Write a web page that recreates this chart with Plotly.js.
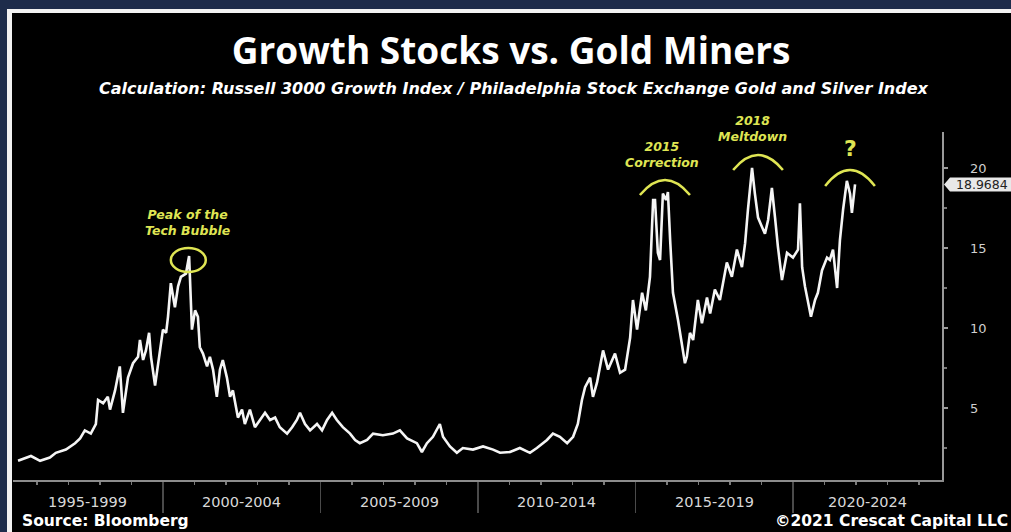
<!DOCTYPE html>
<html>
<head>
<meta charset="utf-8">
<script src="https://cdn.plot.ly/plotly-3.0.1.min.js"></script>
<style>
  html, body { margin:0; padding:0; width:1011px; height:532px; overflow:hidden; background:#1e2c4b; }
  #frame { position:absolute; left:7px; top:9px; width:1004px; height:523px; background:#f2f2f2; }
  #inner { position:absolute; left:12px; top:13px; width:999px; height:519px; background:#000; }
  #chart { position:absolute; left:0; top:0; width:1011px; height:532px; }
</style>
</head>
<body>
<div id="frame"></div>
<div id="inner"></div>
<div id="chart"></div>
<script>
// Decimal year of each observation
const years = [1995.40,1995.81,1996.10,1996.41,1996.60,1996.92,1997.21,1997.37,1997.52,1997.71,
1997.87,1997.94,1998.10,1998.25,1998.32,1998.48,1998.63,1998.73,1998.89,1999.05,
1999.21,1999.27,1999.37,1999.46,1999.56,1999.62,1999.75,1999.90,2000.00,2000.10,
2000.16,2000.25,2000.38,2000.48,2000.57,2000.73,2000.83,2000.86,2000.92,2001.02,
2001.11,2001.17,2001.27,2001.40,2001.49,2001.59,2001.71,2001.81,2001.90,2002.03,
2002.13,2002.22,2002.38,2002.51,2002.60,2002.76,2002.92,2003.08,2003.24,2003.40,
2003.56,2003.71,2003.94,2004.10,2004.25,2004.35,2004.51,2004.67,2004.89,2005.05,
2005.21,2005.37,2005.52,2005.71,2005.94,2006.10,2006.25,2006.48,2006.67,2006.98,
2007.30,2007.52,2007.75,2008.06,2008.22,2008.38,2008.57,2008.79,2008.89,2009.11,
2009.33,2009.52,2009.84,2010.16,2010.48,2010.70,2011.02,2011.33,2011.65,2011.87,
2012.19,2012.38,2012.60,2012.83,2013.02,2013.17,2013.30,2013.40,2013.56,2013.65,
2013.78,2013.97,2014.13,2014.35,2014.51,2014.67,2014.83,2014.92,2015.05,2015.21,
2015.33,2015.46,2015.56,2015.62,2015.71,2015.78,2015.87,2015.97,2016.03,2016.10,
2016.19,2016.35,2016.48,2016.57,2016.63,2016.73,2016.83,2016.98,2017.11,2017.27,
2017.37,2017.52,2017.68,2017.90,2018.06,2018.22,2018.38,2018.48,2018.57,2018.70,
2018.79,2018.89,2019.02,2019.11,2019.21,2019.33,2019.43,2019.52,2019.65,2019.81,
2020.00,2020.16,2020.22,2020.29,2020.38,2020.48,2020.57,2020.70,2020.79,2020.92,
2021.08,2021.17,2021.27,2021.40,2021.49,2021.59,2021.71,2021.81,2021.87,2021.97];

// Russell 3000 Growth / XAU ratio
const ratio = [1.7,2.0,1.7,1.9,2.2,2.4,2.8,3.1,3.6,3.4,
4.0,5.5,5.3,5.7,4.9,6.1,7.6,4.7,6.9,7.8,
8.2,9.25,8.0,8.6,9.7,8.2,6.4,8.6,9.9,9.7,
10.7,12.8,11.3,12.6,13.2,13.4,14.5,13.0,9.9,11.1,
10.7,8.8,8.4,7.6,8.2,7.4,5.7,7.4,8.0,6.9,
5.7,6.1,4.4,4.9,4.0,4.9,3.8,4.25,4.7,4.25,
4.4,3.8,3.4,3.8,4.25,4.7,4.0,3.6,4.0,3.6,
4.25,4.7,4.25,3.8,3.4,3.0,2.8,3.0,3.4,3.3,
3.4,3.6,3.1,2.8,2.25,2.8,3.2,4.0,3.2,2.6,
2.2,2.5,2.4,2.6,2.4,2.2,2.25,2.5,2.2,2.5,
3.0,3.4,3.2,2.8,3.2,4.0,5.5,6.3,6.9,5.7,
6.6,8.6,7.4,8.4,7.2,7.4,9.4,11.75,9.9,12.2,
11.1,13.2,18.0,18.0,14.7,14.25,18.4,18.0,18.5,15.5,
12.2,10.5,8.8,7.8,8.2,9.7,9.25,11.75,10.3,11.9,
10.9,12.4,11.75,14.1,13.2,14.9,13.8,15.3,17.4,20.0,
18.4,16.9,16.3,15.9,16.75,18.75,16.9,15.1,13.0,14.7,
14.4,14.9,17.8,13.8,12.6,11.6,10.7,11.75,12.2,13.6,
14.4,14.25,14.9,12.5,15.5,17.4,19.2,18.4,17.2,18.97];

const lastValue = 18.9684;
const lastLabel = '18.9684';

const periodBounds = [2000, 2005, 2010, 2015, 2020];
const periodLabels = ['1995-1999','2000-2004','2005-2009','2010-2014','2015-2019','2020-2024'];
const periodCenters = [1997.62, 2002.5, 2007.5, 2012.5, 2017.5, 2022.37];

const yTickVals = [5, 10, 15, 20];
const yTickText = ['5', '10', '15', '20'];
const yMinorVals = [2.5, 7.5, 12.5, 17.5];

const titleText = 'Growth Stocks vs. Gold Miners';
const subtitleText = 'Calculation: Russell 3000 Growth Index / Philadelphia Stock Exchange Gold and Silver Index';
const sourceText = 'Source: Bloomberg';
const copyrightText = '\u00A92021 Crescat Capital LLC';

const YEL = '#dfe553';

const trace = {
  x: years, y: ratio, type: 'scatter', mode: 'lines',
  line: { color: '#f5f5f5', width: 2.6 },
  hoverinfo: 'skip', showlegend: false
};

const annFont = { family: 'DejaVu Sans', size: 12.5, color: YEL, weight: 700, style: 'italic' };
const annotations = [
  { xref:'paper', yref:'paper', x: 0.5393, y: 1.1236, xanchor:'center', yanchor:'middle',
    text: subtitleText, showarrow:false,
    font: { family:'DejaVu Sans', size: 16, color:'#ffffff', weight:700, style:'italic' } },
  { xref:'x', yref:'y', x: 2000.79, y: 16.6, text:'Peak of the<br>Tech Bubble', showarrow:false, font: annFont, align:'center' },
  { xref:'x', yref:'y', x: 2015.84, y: 20.85, text:'2015<br>Correction', showarrow:false, font: annFont, align:'center' },
  { xref:'x', yref:'paper', x: 2018.73, y: 1.0101, yanchor:'middle', text:'2018<br>Meltdown', showarrow:false, font: annFont, align:'center' },
  { xref:'x', yref:'y', x: 2021.81, y: 21.2, text:'?', showarrow:false,
    font: { family:'DejaVu Sans', size: 22, color: YEL, weight:700 } },
  { xref:'paper', yref:'paper', x: 0.0075, y: -0.1178, xanchor:'left', yanchor:'middle',
    text: sourceText, showarrow:false, font: { family:'DejaVu Sans', size: 15.5, color:'#ffffff', weight:700 } },
  { xref:'paper', yref:'paper', x: 1.0730, y: -0.1178, xanchor:'right', yanchor:'middle',
    text: copyrightText, showarrow:false, font: { family:'DejaVu Sans', size: 15.5, color:'#ffffff', weight:700 } },
  { xref:'paper', yref:'y', x: 1, y: lastValue, xanchor:'center', yanchor:'middle', xshift: 40,
    text: lastLabel, showarrow:false, font: { family:'DejaVu Sans', size: 12.5, color:'#222222' } }
];
periodLabels.forEach((t, i) => {
  annotations.push({ xref:'x', yref:'paper', x: periodCenters[i], y: -0.063, xanchor:'center', yanchor:'middle',
    text: t, showarrow:false, font: { family:'DejaVu Sans', size: 14.5, color:'#d8d8d8' } });
});
yTickVals.forEach((v, i) => {
  annotations.push({ xref:'paper', yref:'y', x: 1, y: v, xanchor:'left', yanchor:'middle', xshift: 26,
    text: yTickText[i], showarrow:false, font: { family:'DejaVu Sans', size: 13, color:'#d0d0d0' } });
});

const shapes = [
  { type:'circle', xref:'x', yref:'y', x0: 2000.25, x1: 2001.36, y0: 13.5, y1: 15.0,
    line: { color: YEL, width: 2.5 } },
  { type:'path', xref:'x', yref:'y', path: 'M2015.14,18.31 Q2015.94,20.19 2016.73,18.31',
    line: { color: YEL, width: 2.5 } },
  { type:'path', xref:'x', yref:'y', path: 'M2018.10,19.875 Q2018.89,21.75 2019.68,19.875',
    line: { color: YEL, width: 2.5 } },
  { type:'path', xref:'x', yref:'y', path: 'M2021.02,18.875 Q2021.81,20.875 2022.60,18.875',
    line: { color: YEL, width: 2.5 } },
  { type:'path', xref:'paper', xsizemode:'pixel', xanchor: 1, yref:'y', ysizemode:'pixel', yanchor: lastValue,
    path: 'M2,0 L8,7 L72,7 L72,-7 L8,-7 Z', fillcolor:'#e8e8e8', line: { width: 0 } }
];

const layout = {
  width: 1011, height: 532,
  margin: { l: 13, r: 69, t: 132, b: 52 },
  paper_bgcolor: 'rgba(0,0,0,0)', plot_bgcolor: 'rgba(0,0,0,0)',
  title: { text: titleText, xref:'container', yref:'container', x: 511/1011, y: 1-51/532,
    xanchor:'center', yanchor:'middle',
    font: { family:'Open Sans', size: 37, color:'#ffffff', weight:700 } },
  xaxis: {
    type:'linear', range: [1995.24, 2024.73], showgrid:false, zeroline:false,
    showline:true, linecolor:'#8c8c8c', linewidth:1.5,
    tickmode:'array', tickvals: periodBounds, ticks:'outside', ticklen: 31, tickwidth: 1.5, tickcolor:'#4a4a4a',
    showticklabels:false,
    minor: { tickmode:'linear', tick0: 1995, dtick: 1, ticklen: 3, tickcolor:'#7a7a7a', ticks:'outside', showgrid:false }
  },
  yaxis: {
    side:'right', range: [0.5, 22.25], showgrid:false, zeroline:false,
    showline:true, linecolor:'#9a9a9a', linewidth:1.5,
    tickmode:'array', tickvals: yTickVals, ticks:'outside', ticklen: 4, tickwidth: 2, tickcolor:'#9a9a9a',
    showticklabels:false,
    minor: { tickmode:'array', tickvals: yMinorVals, ticklen: 3, tickcolor:'#777', ticks:'outside', showgrid:false }
  },
  annotations: annotations,
  shapes: shapes,
  showlegend: false
};

Plotly.newPlot('chart', [trace], layout, { staticPlot: true, displayModeBar: false });
</script>
</body>
</html>
